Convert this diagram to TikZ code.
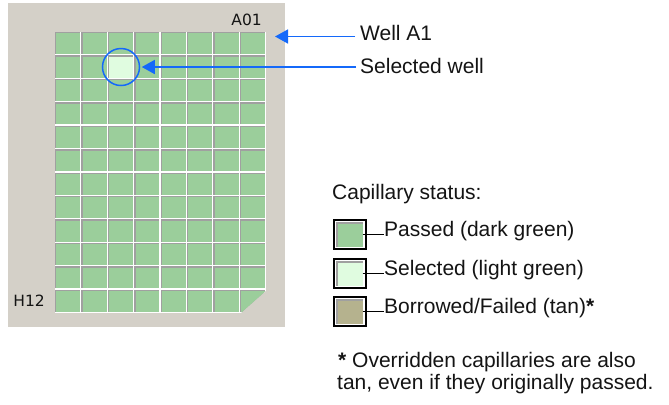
\documentclass[tikz,border=0pt]{standalone}
\usepackage{fontspec}
\setmainfont{Liberation Sans}
\newfontfamily\uifont{DejaVu Sans}
\usetikzlibrary{arrows.meta}
\definecolor{panelgray}{RGB}{212,208,200}
\definecolor{wellgreen}{RGB}{155,206,155}
\definecolor{selgreen}{RGB}{224,252,224}
\definecolor{tancol}{RGB}{181,178,142}
\definecolor{shadowgray}{RGB}{160,160,160}
\definecolor{arrowblue}{RGB}{20,105,250}
\definecolor{textblack}{RGB}{20,20,20}
\begin{document}
\begin{tikzpicture}[x=1bp,y=-1bp,
  maintext/.style={font=\fontsize{21bp}{25bp}\selectfont, inner sep=0, text=textblack},
  uitext/.style={font=\uifont\fontsize{15.5bp}{18bp}\selectfont, inner sep=0, text=textblack},
  bluearrow/.style={draw=arrowblue, line width=1.5bp, -{Triangle[length=13bp,width=14bp]}},
  legline/.style={draw=black, line width=1.2bp},
  legbox/.style={draw=black, line width=2bp, fill=white, minimum width=32bp, minimum height=29bp,
    inner sep=0, path picture={
      \fill[shadowgray] ([shift={(2.6bp,-2bp)}]path picture bounding box.north west) rectangle ([shift={(-2.4bp,2.3bp)}]path picture bounding box.south east);
      \fill[#1] ([shift={(4.6bp,-4bp)}]path picture bounding box.north west) rectangle ([shift={(-2.4bp,2.3bp)}]path picture bounding box.south east);
    }}
]
\useasboundingbox (0,0) rectangle (669,404);
\fill[white] (0,0) rectangle (669,404);
% plate panel
\fill[panelgray] (8,3) rectangle (285,327);
% wells
\begin{scope}
  \clip (55,32) -- (266.2,32) -- (266.2,290.5) -- (240.5,313.3) -- (55,313.3) -- cycle;
  \fill[white] (55,32) rectangle (266.2,313.3);
  \foreach \i in {0,...,7}{
    \foreach \j in {0,...,11}{
      \fill[shadowgray] ({55+26.4*\i},{32+23.43*\j}) rectangle ++(25.1,22.1);
      \fill[wellgreen] ({56.4+26.4*\i},{33.4+23.43*\j}) rectangle ++(23.7,20.7);
    }
  }
  \fill[selgreen] ({56.4+26.4*2},{33.4+23.43}) rectangle ++(23.7,20.7);
\end{scope}
\node[circle, draw=arrowblue, line width=1.5bp, minimum size=37bp, inner sep=0] (selring) at (121,67) {};
\node[uitext, anchor=base east] (a01) at (262,25) {A01};
\node[uitext, anchor=base east] (h12) at (45,306) {H12};
% callouts
\node[maintext, anchor=base west] (wella1) at (360,40) {Well A1};
\node[maintext, anchor=base west] (selwell) at (360,73) {Selected well};
\coordinate (a1tip) at (275,36.5);
\draw[bluearrow] ([xshift=-5bp]wella1.west |- a1tip) -- (a1tip);
\draw[bluearrow] ([xshift=-4bp]selwell.west |- selring.east) -- ([xshift=1.5bp]selring.east);
% legend
\node[maintext, anchor=base west] (capstat) at (332,199) {Capillary status:};
\node[legbox=wellgreen] (box1) at (349.7,234.8) {};
\node[legbox=selgreen] (box2) at (349.7,273.3) {};
\node[legbox=tancol] (box3) at (349.7,311.8) {};
\node[maintext, anchor=base west] (txt1) at (384,236.5) {Passed (dark green)};
\node[maintext, anchor=base west] (txt2) at (384,275) {Selected (light green)};
\node[maintext, anchor=base west] (txt3) at (384,313.5) {Borrowed/Failed (tan)\textbf{*}};
\draw[legline] ([xshift=-4bp]box1.east) -- (box1.east -| txt1.west);
\draw[legline] ([xshift=-4bp]box2.east) -- (box2.east -| txt2.west);
\draw[legline] ([xshift=-4bp]box3.east) -- (box3.east -| txt3.west);
% footnote
\node[maintext, anchor=base west] (foot1) at (338,367) {\textbf{*} Overridden capillaries are also};
\node[maintext, anchor=base west] (foot2) at (337,389) {tan, even if they originally passed.};
\end{tikzpicture}
\end{document}
